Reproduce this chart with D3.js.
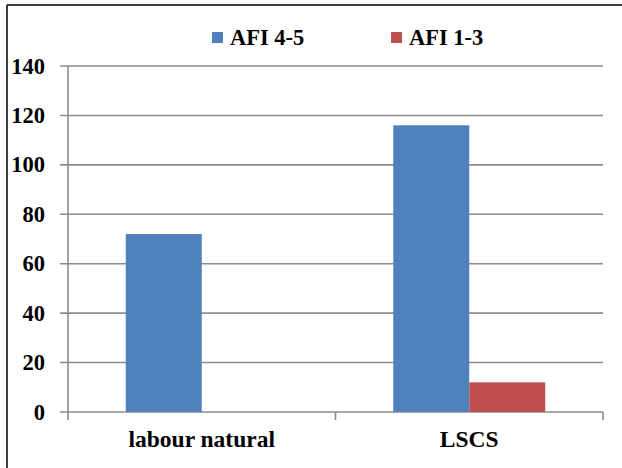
<!DOCTYPE html>
<html>
<head>
<meta charset="utf-8">
<script src="https://cdn.jsdelivr.net/npm/d3@7"></script>
<style>
  body { margin: 0; background: #fff; }
</style>
</head>
<body>
<svg id="chart" width="622" height="468"></svg>
<script>
// chart data
const categories = ["labour natural", "LSCS"];
const seriesNames = ["AFI 4-5", "AFI 1-3"];
const seriesColors = ["#4F81BD", "#C0504D"];
const afi45 = [72, 116];
const afi13 = [0, 12];
const yTicks = [0, 20, 40, 60, 80, 100, 120, 140];

const FONT = "'Liberation Serif', 'Times New Roman', 'DejaVu Serif', serif";

const svg = d3.select("#chart");

// outer frame (left + top only visible)
svg.append("line").attr("x1", 7).attr("x2", 7).attr("y1", 5).attr("y2", 468)
  .attr("stroke", "#000").attr("stroke-width", 1.5);
svg.append("line").attr("x1", 7).attr("x2", 622).attr("y1", 5).attr("y2", 5)
  .attr("stroke", "#000").attr("stroke-width", 1.5);

const plotL = 68, plotR = 603, plotT = 66, plotB = 412;

const x = d3.scaleBand().domain(categories).range([plotL, plotR]);
const y = d3.scaleLinear().domain([0, 140]).range([plotB, plotT]);
const inner = d3.scaleBand().domain(seriesNames)
  .range([0, x.bandwidth()]).paddingOuter(0.76).paddingInner(0);

// gridlines + y ticks
svg.selectAll(".grid").data(yTicks).enter()
  .append("line")
    .attr("x1", plotL - 8)
    .attr("x2", plotR)
    .attr("y1", d => y(d))
    .attr("y2", d => y(d))
    .attr("stroke", "#8c8c8c")
    .attr("stroke-width", 1.6);

svg.selectAll(".ylab").data(yTicks).enter()
  .append("text")
    .attr("x", 45)
    .attr("y", d => y(d) + 7.5)
    .attr("text-anchor", "end")
    .attr("font-family", FONT)
    .attr("font-weight", "bold")
    .attr("font-size", 22.5)
    .text(d => d);

// y axis line
svg.append("line").attr("x1", plotL).attr("x2", plotL).attr("y1", plotT).attr("y2", plotB + 8)
  .attr("stroke", "#8c8c8c").attr("stroke-width", 1.6);

// category ticks
const catEdges = [x(categories[1]), plotR];
svg.selectAll(".ctick").data(catEdges).enter()
  .append("line")
    .attr("x1", d => d).attr("x2", d => d)
    .attr("y1", plotB).attr("y2", plotB + 8)
    .attr("stroke", "#8c8c8c").attr("stroke-width", 1.6);

// bars
const rows = categories.map((c, i) => ({ cat: c, vals: [afi45[i], afi13[i]] }));
const groups = svg.selectAll(".grp").data(rows).enter()
  .append("g")
    .attr("transform", d => `translate(${x(d.cat)},0)`);

groups.selectAll("rect")
  .data(d => d.vals.map((v, j) => ({ name: seriesNames[j], v: v, j: j })))
  .enter()
  .append("rect")
    .attr("x", d => inner(d.name))
    .attr("y", d => y(d.v))
    .attr("width", inner.bandwidth())
    .attr("height", d => plotB - y(d.v))
    .attr("fill", d => seriesColors[d.j]);

// x labels
svg.selectAll(".xlab").data(categories).enter()
  .append("text")
    .attr("x", d => x(d) + x.bandwidth() / 2)
    .attr("y", 447)
    .attr("text-anchor", "middle")
    .attr("font-family", FONT)
    .attr("font-weight", "bold")
    .attr("font-size", 23.5)
    .text(d => d);

// legend
const legX = [212, 391];
const leg = svg.selectAll(".leg").data(seriesNames).enter()
  .append("g")
    .attr("transform", (d, i) => `translate(${legX[i]},32)`);
leg.append("rect").attr("width", 11).attr("height", 11)
  .attr("fill", (d, i) => seriesColors[i]);
leg.append("text").attr("x", 18).attr("y", 13)
  .attr("font-family", FONT)
  .attr("font-weight", "bold")
  .attr("font-size", 22.5)
  .text(d => d);
</script>
</body>
</html>
